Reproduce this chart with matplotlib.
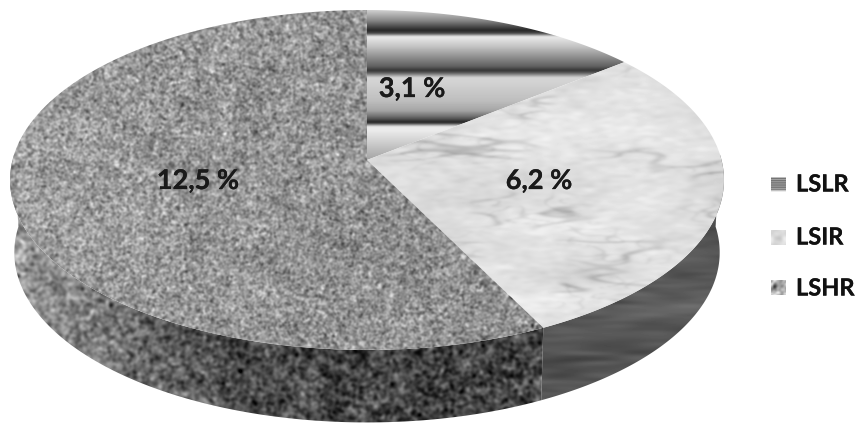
import numpy as np
import matplotlib
matplotlib.use("Agg")
import matplotlib.pyplot as plt
import matplotlib.patheffects as pe
from matplotlib.patches import Polygon

categories = ["LSLR", "LSIR", "LSHR"]
values = [3.1, 6.2, 12.5]
labels = ["3,1 %", "6,2 %", "12,5 %"]

W, H = 859, 428
plt.rcParams['font.family'] = ['Lato', 'Open Sans', 'DejaVu Sans']
fig = plt.figure(figsize=(W / 100, H / 100), dpi=100)
ax = fig.add_axes([0, 0, 1, 1])
ax.set_xlim(0, W)
ax.set_ylim(H, 0)
ax.axis('off')

# perspective disc geometry
CX, CY = 367.0, 160.0
C, A, B = 0.1176, 167.6, 354.5
DEPTH = 72.5


def disc(theta, drop=0.0, shrink=1.0):
    """theta: clockwise from 12 o'clock, degrees."""
    t = np.radians(theta)
    u, v = np.sin(t), np.cos(t)
    d = 1 + C * v
    return np.column_stack([CX + shrink * B * u / d, CY - A * v / d + drop])


# Textures (decoration only: no chart value comes from them)
rng = np.random.RandomState(7)


def blur(img, sx, sy):
    fy = np.fft.fftfreq(img.shape[0])[:, None]
    fx = np.fft.rfftfreq(img.shape[1])[None, :]
    g = np.exp(-2 * np.pi ** 2 * ((fx * sx) ** 2 + (fy * sy) ** 2))
    return np.fft.irfft2(np.fft.rfft2(img) * g, s=img.shape)


def norm(a):
    return (a - a.mean()) / a.std()


def noise(sx, sy):
    return norm(blur(rng.randn(H, W), sx, sy))


ys = np.arange(H)
xs = np.arange(W)[None, :]
band = np.interp(ys,
                 [0, 10, 20, 30, 33, 36, 46, 58, 66, 70, 73, 77, 100, 110, 117, 122, 126, 130, 150, 165, H],
                 [205, 205, 135, 35, 80, 235, 195, 135, 95, 50, 110, 215, 190, 165, 100, 30, 235, 235, 185, 150, 150])
tex_lslr = np.tile(blur(band[:, None].repeat(8, 1), 0, 0.9), (1, W // 8 + 1))[:, :W]

mask = np.clip(noise(25, 12) + 0.4, 0, 1.6)
vein1 = np.exp(-(noise(22, 3.5) / 0.22) ** 2)
vein2 = np.exp(-(noise(10, 2.5) / 0.14) ** 2)
tex_lsir = (224 + 5 * noise(35, 9) + 3 * noise(4, 1.5)
            - 26 * mask * blur(vein1, 2.0, 1.0)
            - 16 * mask * blur(vein2, 1.5, 1.0))

grad_top = np.clip((367 - xs) / 367.0, 0, 1)
tex_lshr = 143 + 16 * grad_top + 19 * noise(1.1, 1.1) + 4 * noise(8, 8)
grad_wall = np.clip((260 - xs) / 240.0, 0, 1) ** 1.2
wall_lshr = 68 + 85 * grad_wall + 20 * noise(1.6, 1.6) + 6 * noise(6, 6)
wall_lsir = 86 + 6 * noise(14, 1.8) + 4 * noise(40, 8)

fractions = np.cumsum([0] + values) / np.sum(values) * 360.0


def textured(poly, tex, z):
    im = ax.imshow(tex, extent=(0, W, H, 0), cmap='gray', vmin=0, vmax=255,
                   interpolation='bilinear', aspect='auto', zorder=z)
    p = Polygon(poly, closed=True, transform=ax.transData, fc='none', ec='none')
    ax.add_patch(p)
    im.set_clip_path(p)


def wall(a0, a1, tex, z):
    th = np.linspace(a0, a1, 150)
    poly = np.vstack([disc(th), disc(th[::-1], DEPTH, 0.988)])
    textured(poly, tex, z)


wall(88, fractions[2], wall_lsir, 1)
wall(fractions[2], 272, wall_lshr, 1)

top_tex = [tex_lslr, tex_lsir, tex_lshr]
for i in range(len(values)):
    th = np.linspace(fractions[i], fractions[i + 1], 200)
    poly = np.vstack([[CX, CY], disc(th)])
    textured(poly, top_tex[i], 2)

stroke = [pe.withStroke(linewidth=0.2, foreground='#1a1a1a')]
label_pos = [(412, 89), (539, 181), (198, 181)]
for s, (x, y) in zip(labels, label_pos):
    ax.text(x, y, s, fontsize=19.5, fontweight='bold', color='#1a1a1a',
            ha='center', va='center', zorder=5, path_effects=stroke)

# legend
legend_y = [184, 237, 288]
sw_lslr = np.interp(np.arange(14), np.arange(14),
                    [190, 110, 170, 100, 170, 100, 170, 100, 170, 100, 170, 120, 190, 235])[:, None].repeat(14, 1)
sw_lsir = 218 + 8 * norm(blur(rng.randn(14, 14), 2, 2))
sw_lshr = 170 + 32 * norm(blur(rng.randn(14, 14), 1.2, 1.2))
swatches = [sw_lslr, sw_lsir, sw_lshr]
for c, y, sw in zip(categories, legend_y, swatches):
    ax.imshow(sw, extent=(771, 786, y + 7.5, y - 7.5), cmap='gray', vmin=0, vmax=255,
              interpolation='bilinear', aspect='auto', zorder=3)
    ax.text(796, y, c, fontsize=17, fontweight='bold', color='#111111',
            ha='left', va='center', zorder=5, path_effects=stroke)

ax.set_xlim(0, W)
ax.set_ylim(H, 0)
fig.savefig('out.png', dpi=100, facecolor='white')
